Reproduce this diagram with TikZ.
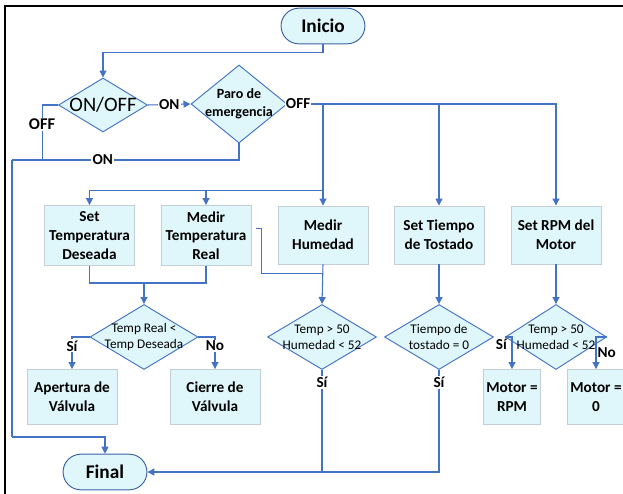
\documentclass[tikz,border=0pt]{standalone}
\usepackage{fontspec}
\setmainfont{Carlito}
\usetikzlibrary{shapes.geometric,shapes.misc,arrows.meta,calc}

\definecolor{flujo}{HTML}{4472C4}
\definecolor{relleno}{HTML}{DFF7FA}
\definecolor{borde}{HTML}{C3CED6}

\tikzset{
  caja/.style={rectangle, draw=borde, fill=relleno, line width=0.8pt, align=center,
    font=\fontsize{13}{16}\selectfont\bfseries, inner sep=0pt},
  term/.style={rounded rectangle, draw=flujo!85!black, fill=relleno, line width=0.8pt,
    font=\fontsize{16.5}{18}\selectfont\bfseries, minimum width=2.75cm, minimum height=1.07cm},
  deci/.style={diamond, draw=flujo, fill=relleno, line width=0.8pt, inner sep=0pt},
  dtxt/.style={align=center, font=\fontsize{11.3}{14}\selectfont},
  linea/.style={draw=flujo, line width=0.9pt},
  flecha/.style={linea, -{Triangle[length=6pt,width=6pt]}},
  etq/.style={font=\fontsize{13}{15}\selectfont\bfseries, fill=white, inner sep=1pt},
}

\begin{document}
\begin{tikzpicture}[x=0.03cm,y=-0.03cm]
  \useasboundingbox (0,0) rectangle (623,493);
  \draw[line width=1.2pt] (5,6) rectangle (660,520);

  % terminales
  \node[term] (ini) at (323,26) {Inicio};
  \node[term] (fin) at (105,472) {Final};

  % decisiones
  \node[deci, minimum width=2.67cm, minimum height=1.62cm,
    label={[font=\fontsize{17.5}{20}\selectfont]center:ON/OFF}] (onoff) at (103,105) {};
  \node[deci, minimum width=2.88cm, minimum height=2.34cm,
    label={[dtxt, font=\fontsize{12}{15.5}\selectfont\bfseries]center:{Paro de\\emergencia}}] (paro) at (239,104) {};
  \node[deci, minimum width=3.24cm, minimum height=1.95cm,
    label={[dtxt]center:{Temp Real <\\Temp Deseada}}] (trd) at (144,337) {};
  \node[deci, minimum width=3.27cm, minimum height=1.95cm,
    label={[dtxt]center:{Temp > 50\\Humedad < 52}}] (hdec) at (322,337) {};
  \node[deci, minimum width=3.27cm, minimum height=1.95cm,
    label={[dtxt]center:{Tiempo de\\tostado = 0}}] (tdec) at (439,337) {};
  \node[deci, minimum width=3.03cm, minimum height=1.95cm,
    label={[dtxt]center:{Temp > 50\\Humedad < 52}}] (rdec) at (556,337) {};

  % procesos
  \node[caja, minimum width=2.7cm, minimum height=1.8cm] (setd) at (89.5,235.5) {Set\\Temperatura\\Deseada};
  \node[caja, minimum width=2.7cm, minimum height=1.8cm] (medr) at (206,235.5) {Medir\\Temperatura\\Real};
  \node[caja, minimum width=2.7cm, minimum height=1.74cm] (hum) at (323,235) {Medir\\Humedad};
  \node[caja, minimum width=2.7cm, minimum height=1.74cm] (tos) at (439,235) {Set Tiempo\\de Tostado};
  \node[caja, minimum width=2.7cm, minimum height=1.74cm] (rpm) at (556,235) {Set RPM del\\Motor};
  \node[caja, minimum width=2.7cm, minimum height=1.65cm] (apert) at (72,397) {Apertura de\\Válvula};
  \node[caja, minimum width=2.7cm, minimum height=1.65cm] (cier) at (215,397) {Cierre de\\Válvula};
  \node[caja, minimum width=1.71cm, minimum height=1.65cm] (mrpm) at (512,397) {Motor =\\RPM};
  \node[caja, minimum width=1.71cm, minimum height=1.65cm] (mzero) at (596,397) {Motor =\\0};

  \coordinate (jon) at (12,160);
  \coordinate (fb) at (12,437);
  \coordinate (jt) at ($(hum.north)+(0,-15)$);
  \coordinate (hb) at (hdec.south |- fin.east);

  % inicio y encendido
  \draw[flecha] (ini.south) -- ++(0,8) -| (onoff.north);
  \draw[flecha] (onoff.east) -- node[etq]{ON} (paro.west);
  \draw[linea] (onoff.west) -- ++(-16,0) -- node[etq, pos=0.35, font=\fontsize{14}{16}\selectfont\bfseries]{OFF} ++(0,55);
  \draw[linea] (paro.south) |- node[etq, pos=0.8]{ON} (jon);
  \draw[linea, line width=1.4pt] (jon) -- (fb);
  \draw[flecha] (fb) -| (fin.north);

  % ramas
  \draw[flecha] (paro.east) -- node[etq, pos=0.3]{OFF} (hum.north |- paro.east) -| (rpm.north);
  \draw[flecha] (hum.north |- paro.east) -- (hum.north);
  \draw[flecha] (tos.north |- paro.east) -- (tos.north);
  \draw[flecha] (jt) -| (setd.north);
  \draw[flecha] (medr.north |- jt) -- (medr.north);

  \draw[linea] (setd.south) -- ++(0,17) -| (medr.south);
  \draw[flecha] ($(trd.north |- medr.south)+(0,17)$) -- (trd.north);
  \draw[linea] ($(medr.east)+(5,-7)$) -- ++(5,0) |- ($(hum.south)+(0,9)$);
  \draw[flecha] (hum.south) -- (hdec.north);
  \draw[flecha] (tos.south) -- (tdec.north);
  \draw[flecha] (rpm.south) -- (rdec.north);

  % salidas de las decisiones
  \draw[flecha] (trd.west) -| node[etq, pos=0.64]{Sí} (apert.north);
  \draw[flecha] (trd.east) -| node[etq, pos=0.64]{No} (cier.north);
  \draw[flecha] (hdec.south) -- node[etq, pos=0.12]{Sí} (hb) -- (fin.east);
  \draw[linea] (tdec.south) -- node[etq, pos=0.12]{Sí} (tdec.south |- fin.east) -- (hb);
  \draw[flecha] (rdec.west) -| node[etq, pos=0, anchor=north east, fill=none, xshift=3pt]{Sí} (mrpm.north);
  \draw[flecha] (rdec.east) -| node[etq, pos=0.75, right, fill=none]{No} (mzero.north);
\end{tikzpicture}
\end{document}
